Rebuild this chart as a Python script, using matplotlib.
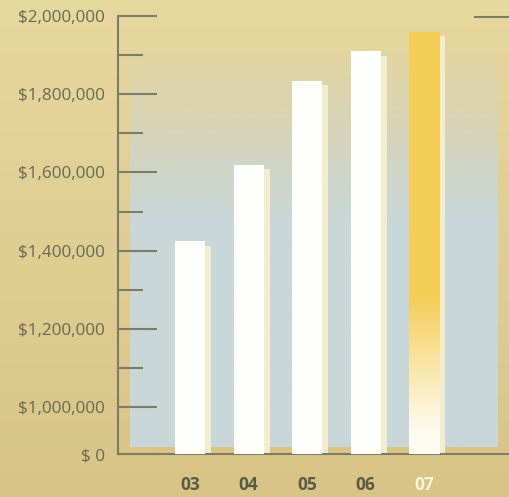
import matplotlib.pyplot as plt
import numpy as np

# data
years = ['03', '04', '05', '06', '07']
revenue = [1425000, 1620000, 1835000, 1910000, 1960000]
major_ticks = [1000000, 1200000, 1400000, 1600000, 1800000, 2000000]
major_labels = ['$1,000,000', '$1,200,000', '$1,400,000', '$1,600,000', '$1,800,000', '$2,000,000']
minor_ticks = [1100000, 1300000, 1500000, 1700000, 1900000]
zero_pos = 879800  # broken axis: where "$ 0" sits

gold = '#dcc98f'
axis_col = '#7b7d66'
text_col = '#686a52'

fig = plt.figure(figsize=(5.10, 4.97), dpi=100)
fig.patch.set_facecolor(gold)

# soft background gradient over the whole page
bg = fig.add_axes([0, 0, 1, 1], zorder=-5)
top_c = np.array([231, 216, 160]) / 255
bot_c = np.array([216, 196, 134]) / 255
t = np.linspace(0, 1, 256)[:, None]
grad = (top_c * (1 - t) + bot_c * t)[:, None, :]
bg.imshow(grad, aspect='auto', extent=[0, 1, 0, 1])
bg.axis('off')

ax = fig.add_axes([118 / 510, 43 / 497, 392 / 510, 438 / 497])
ax.patch.set_alpha(0)
ax.set_xlim(-1.231, 5.47)
ax.set_ylim(zero_pos, 2000000)

# blue-grey panel behind the bars, fading into the gold at the top
n = 300
yy = np.linspace(2000000, 897700, n)
alpha = np.clip((1939000 - yy) / (1939000 - 1480000), 0, 1)
panel = np.zeros((n, 1, 4))
panel[:, 0, :3] = np.array([202, 215, 217]) / 255
panel[:, 0, 3] = alpha
ax.imshow(panel, aspect='auto', extent=[-1.026, 5.248, 897700, 2000000], zorder=0,
          interpolation='bilinear')

x = np.arange(len(years))
h = np.array(revenue) - zero_pos
w = 0.513

# faint offset "shadow" bars
ax.bar(x + 0.11, h - 12000, bottom=zero_pos, width=w, color='#f3edd0', zorder=2)
bars = ax.bar(x, h, bottom=zero_pos, width=w, color='#fefefb', zorder=3)

# last year: gold fading to white at the bottom
b = bars[-1]
b.set_facecolor('none')
yg = np.linspace(revenue[-1], zero_pos, 300)
f = np.clip((yg - 940000) / (1280000 - 940000), 0, 1)
gold_bar = np.array([245, 206, 88]) / 255
white = np.array([253, 251, 240]) / 255
col = white * (1 - f[:, None]) + gold_bar * f[:, None]
im = ax.imshow(col[:, None, :], aspect='auto', zorder=3,
               extent=[x[-1] - w / 2, x[-1] + w / 2, zero_pos, revenue[-1]])
im.set_clip_path(b)

# axes styling
for s in ['top', 'right']:
    ax.spines[s].set_visible(False)
for s in ['left', 'bottom']:
    ax.spines[s].set_color(axis_col)
    ax.spines[s].set_linewidth(1.5)

ax.set_yticks(major_ticks + [zero_pos])
ax.set_yticklabels(major_labels + ['$ 0'], fontfamily='Open Sans', fontsize=12.3, color=text_col)
ax.set_yticks(minor_ticks, minor=True)
ax.tick_params(axis='y', which='major', direction='in', length=28, width=1.5,
               color=axis_col, pad=9.5)
ax.tick_params(axis='y', which='minor', direction='in', length=18, width=1.5,
               color=axis_col)

ax.set_xticks(x)
ax.set_xticklabels(years, fontfamily='Open Sans', fontweight='bold', fontsize=12.5,
                   color='#5a5b45')
ax.get_xticklabels()[-1].set_color('#f8f3dc')
ax.tick_params(axis='x', length=0, pad=16)

# start of the neighbouring chart's frame at top right
ax.axhline(1997000, xmin=357 / 392, xmax=1, color=axis_col, lw=1.5, clip_on=False)

fig.savefig('out.png', dpi=100, facecolor=fig.get_facecolor())
